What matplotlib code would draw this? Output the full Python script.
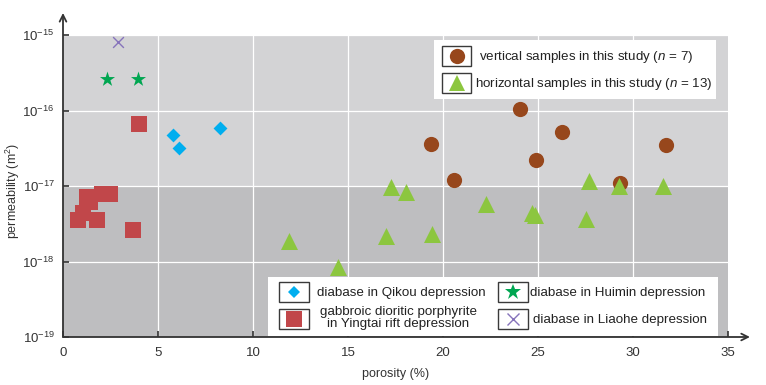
import matplotlib.pyplot as plt
import matplotlib.ticker as mticker
from matplotlib.patches import Rectangle, FancyArrowPatch

plt.rcParams['font.family'] = ['Liberation Sans', 'DejaVu Sans']
plt.rcParams['mathtext.fontset'] = 'custom'
plt.rcParams['mathtext.rm'] = 'Liberation Sans'
plt.rcParams['mathtext.it'] = 'Liberation Sans:italic'

# data: porosity (%) and permeability (m^2)
vert_por = [24.07, 26.28, 19.37, 31.75, 24.89, 20.58, 29.33]
vert_perm = [1.05e-16, 5.2e-17, 3.6e-17, 3.5e-17, 2.2e-17, 1.2e-17, 1.1e-17]

hor_por = [17.25, 18.05, 22.25, 24.7, 24.85, 27.5, 27.7, 29.28, 31.6,
           11.9, 17.0, 19.4, 14.47]
hor_perm = [9.6e-18, 8.3e-18, 5.8e-18, 4.4e-18, 4.1e-18, 3.7e-18, 1.18e-17,
            1.0e-17, 1.0e-17, 1.85e-18, 2.2e-18, 2.3e-18, 8.5e-19]

qikou_por = [5.79, 6.12, 8.28]
qikou_perm = [4.8e-17, 3.2e-17, 5.8e-17]

huimin_por = [2.33, 3.95]
huimin_perm = [2.6e-16, 2.6e-16]

liaohe_por = [2.91]
liaohe_perm = [8.1e-16]

yingtai_por = [3.98, 1.28, 1.42, 2.04, 2.47, 1.07, 0.77, 1.79, 3.68]
yingtai_perm = [6.7e-17, 7.1e-18, 6.1e-18, 7.8e-18, 7.8e-18, 4.4e-18,
                3.5e-18, 3.5e-18, 2.6e-18]

x_ticks = [0, 5, 10, 15, 20, 25, 30, 35]
y_ticks = [1e-19, 1e-18, 1e-17, 1e-16, 1e-15]

c_vert = '#97471c'
c_hor = '#8cc63f'
c_qikou = '#00aeef'
c_huimin = '#00a651'
c_liaohe = '#8673bb'
c_yingtai = '#c1474a'

fig = plt.figure(figsize=(7.66, 3.85), dpi=100)
ax = fig.add_axes([63 / 766, 48 / 385, 665 / 766, 302 / 385])

ax.set_yscale('log')
ax.set_xlim(0, 35)
ax.set_ylim(1e-19, 1e-15)

ax.axhspan(1e-17, 1e-15, color='#d3d3d5', zorder=0, lw=0)
ax.axhspan(1e-19, 1e-17, color='#bebec0', zorder=0, lw=0)
for xv in x_ticks[1:-1]:
    ax.axvline(xv, color='white', lw=0.9, zorder=1)
for yv in y_ticks[1:]:
    ax.axhline(yv, color='white', lw=0.9, zorder=1)

ax.scatter(vert_por, vert_perm, s=120, marker='o', color=c_vert, zorder=3, lw=0)
ax.scatter(hor_por, hor_perm, s=150, marker='^', color=c_hor, zorder=4, lw=0)
ax.scatter(qikou_por, qikou_perm, s=50, marker='D', color=c_qikou, zorder=3, lw=0)
ax.scatter(huimin_por, huimin_perm, s=130, marker='*', color=c_huimin, zorder=3, lw=0)
ax.scatter(liaohe_por, liaohe_perm, s=60, marker='x', color=c_liaohe, zorder=3, lw=1)
ax.scatter(yingtai_por, yingtai_perm, s=120, marker='s', color=c_yingtai, zorder=3, lw=0)

for s in ['top', 'right', 'left', 'bottom']:
    ax.spines[s].set_visible(False)

# axis lines with open arrowheads
for end in [(0, 1.073), (1.033, 0)]:
    arr = FancyArrowPatch((0, 0), end, transform=ax.transAxes, arrowstyle='->',
                          color='#333333', lw=1.3, mutation_scale=12,
                          shrinkA=0, shrinkB=0, clip_on=False, zorder=6)
    ax.add_patch(arr)

ax.set_xticks(x_ticks)
ax.set_yticks(y_ticks)
ax.yaxis.set_minor_locator(mticker.NullLocator())
ax.yaxis.set_major_formatter(mticker.LogFormatterMathtext())
ax.tick_params(direction='in', length=4, width=1.2, color='#333333',
               labelsize=9.5, labelcolor='#333333')
ax.tick_params(axis='x', pad=7)
ax.tick_params(axis='y', pad=6)

ax.set_xlabel('porosity (%)', fontsize=9, color='#333333', labelpad=7)
ax.set_ylabel('permeability (m$^2$)', fontsize=9, color='#333333')
ax.yaxis.set_label_coords(-0.062, 0.483)


def px(x, y):
    # pixel position (from top-left) to axes fraction
    return (x - 63) / 665, (337 - y) / 302


def box(x0, y0, x1, y1, **kw):
    a, b = px(x0, y1)
    c, d = px(x1, y0)
    ax.add_patch(Rectangle((a, b), c - a, d - b, transform=ax.transAxes,
                           clip_on=False, zorder=5, **kw))


def legend_item(x0, y0, x1, y1, marker, color, ms, mew=0):
    box(x0, y0, x1, y1, facecolor='white', edgecolor='#3a3a3a', lw=1.0)
    cx, cy = px((x0 + x1) / 2, (y0 + y1) / 2)
    ax.plot(cx, cy, marker=marker, color=color, ms=ms, mew=mew,
            transform=ax.transAxes, clip_on=False, zorder=6, ls='none')


fs = 9.6
# upper legend
box(434, 40, 716, 99, facecolor='white', edgecolor='none')
legend_item(442, 46, 471, 66, 'o', c_vert, 11)
legend_item(442, 73, 471, 93, '^', c_hor, 12)
ax.text(*px(479, 57), 'vertical samples in this study ($n$ = $\\mathit{7}$)',
        transform=ax.transAxes, fontsize=fs, va='center', ha='left', zorder=7,
        color='#222222')
ax.text(*px(475, 84), 'horizontal samples in this study ($n$ = $\\mathit{13}$)',
        transform=ax.transAxes, fontsize=fs, va='center', ha='left', zorder=7,
        color='#222222')

# lower legend
box(268, 277, 718, 336, facecolor='white', edgecolor='none')
legend_item(279, 282, 309, 302, 'D', c_qikou, 6)
legend_item(279, 309, 309, 329, 's', c_yingtai, 11)
legend_item(498, 282, 528, 302, '*', c_huimin, 12)
legend_item(498, 309, 528, 329, 'x', c_liaohe, 8, mew=1)
ax.text(*px(317, 293), 'diabase in Qikou depression', transform=ax.transAxes,
        fontsize=fs, va='center', ha='left', zorder=7, color='#222222')
ax.text(*px(398, 312), 'gabbroic dioritic porphyrite', transform=ax.transAxes,
        fontsize=fs, va='center', ha='center', zorder=7, color='#222222')
ax.text(*px(398, 323.5), 'in Yingtai rift depression', transform=ax.transAxes,
        fontsize=fs, va='center', ha='center', zorder=7, color='#222222')
ax.text(*px(530, 293), 'diabase in Huimin depression', transform=ax.transAxes,
        fontsize=fs, va='center', ha='left', zorder=7, color='#222222')
ax.text(*px(533, 320), 'diabase in Liaohe depression', transform=ax.transAxes,
        fontsize=fs, va='center', ha='left', zorder=7, color='#222222')

fig.savefig('out.png', dpi=100)
